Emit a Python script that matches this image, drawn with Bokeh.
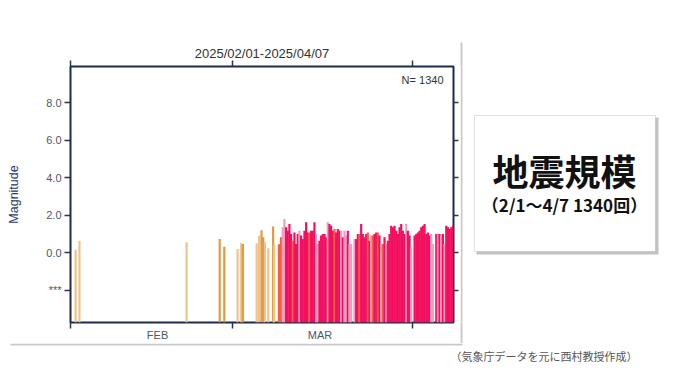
import pandas as pd
from bokeh.plotting import figure
from bokeh.layouts import row, column
from bokeh.models import Range1d, FixedTicker, LinearAxis, Label, BoxAnnotation, ColumnDataSource
from bokeh.embed import file_html
from bokeh.resources import INLINE

# ---------------- data ----------------
title_text = "2025/02/01-2025/04/07"
count_text = "N= 1340"
y_label = "Magnitude"
mag_ticks = [-2, 0, 2, 4, 6, 8]
mag_tick_labels = ["***", "0.0", "2.0", "4.0", "6.0", "8.0"]
month_starts = ["2025-02-01", "2025-03-01", "2025-04-01"]
month_label_dates = ["2025-02-16", "2025-03-16"]
month_names = ["FEB", "MAR"]
box_title = "地震規模"
box_sub = "（2/1～4/7 1340回）"
caption = "（気象庁データを元に西村教授作成）"

# sparse events (Feb - early Mar)
early_times = ["2025-02-01 21:00", "2025-02-02 13:00", "2025-02-21 00:00", "2025-02-26 17:00",
               "2025-02-27 12:00", "2025-03-01 19:00", "2025-03-02 10:00", "2025-03-02 17:00",
               "2025-03-05 02:00", "2025-03-05 12:00", "2025-03-05 22:00", "2025-03-06 05:00",
               "2025-03-06 12:00", "2025-03-07 02:00", "2025-03-07 22:00", "2025-03-08 02:00",
               "2025-03-08 22:00"]
early_mags = [0.15, 0.64, 0.55, 0.73, 0.32, 0.20, 0.52, 0.46, 0.50, 0.90, 1.20, 0.82,
              0.55, 0.23, 1.39, 0.43, 0.41]
early_cols = ["l", "l", "l", "o", "o", "l", "l", "o", "l", "l", "o", "o", "l", "l", "o", "l", "r"]

# dense swarm (from 9 Mar), sampled every 6.9 h; None = no event
dense_start = "2025-03-09 00:00"
dense_step_hours = 6.9
dense_mags = [0.46, 0.82, 1.35, 1.80, 1.35, 1.17, 1.53, 1.00, 0.64, 1.08,
              0.46, 1.00, 1.17, 0.91, 0.73, 1.17, 1.62, 1.08, 1.08, 1.17,
              1.17, 1.62, 1.00, 0.46, 0.64, 0.91, 1.00, 1.00, 0.82, 1.62,
              1.53, 1.44, 1.17, 1.26, 1.08, 1.26, 1.17, 1.17, 0.82, 1.17,
              0.91, 1.17, 0.46, 0.46, None, 0.73, 0.73, 1.00, 1.00, 1.53,
              1.00, 0.82, 1.00, 1.08, 0.64, 0.91, 0.91, 1.00, 1.08, 1.08,
              0.91, 0.46, 0.46, 0.82, 0.46, 0.64, 1.00, 1.44, 1.35, 1.44,
              1.17, 1.00, 1.35, 1.53, 1.17, 1.00, 1.53, 1.17, 0.91, 0.28,
              None, 0.91, 1.00, 1.08, 1.17, 1.35, 1.44, 1.53, 1.00, 1.08,
              0.91, 1.00, 0.46, None, 1.00, 1.00, 1.00, 0.91, 1.00, 0.46,
              1.44, 1.35, 1.26, 1.35, 1.44]
dense_cols = ("rrppccccrc" "ccpcccccrc" "ccppcccccp" "cccrcccpcp" "pcppxpccrc"
              "cccrcprccr" "cprcpccccc" "ccccccpccp" "xccccccccc" "cppxcpcpcp" "ccccc")

colour_map = {"o": "#E29A3D", "l": "#EFC28C", "r": "#F0613F", "c": "#F30F5F", "p": "#EE9DC0"}

# ---------------- build ----------------
def ms(s):
    return pd.Timestamp(s).value // 10**6

times, mags, cols = [], [], []
for t, m, c in zip(early_times, early_mags, early_cols):
    times.append(pd.Timestamp(t)); mags.append(m); cols.append(colour_map[c])
t0 = pd.Timestamp(dense_start)
for i, (m, c) in enumerate(zip(dense_mags, dense_cols)):
    if m is None:
        continue
    times.append(t0 + pd.Timedelta(hours=dense_step_hours * i)); mags.append(m); cols.append(colour_map[c])

src = ColumnDataSource(dict(t=times, m=mags, c=cols))

FONT = "Liberation Sans"
CJK = "Noto Sans CJK JP"
TICK_COL = "#2a3550"
LAB_COL = "#4d5868"
EDGE = "#cacaca"

TOP_H = 343
LEFT_W = 460
TOTAL_W = 672
TOTAL_H = 374
B_TOP = 66
B_BOT = 21
FRAME_BOTTOM = TOP_H - B_BOT   # 322 (canvas y)

p = figure(width=LEFT_W, height=TOP_H, x_axis_type="datetime", output_backend="svg", toolbar_location=None,
           x_range=Range1d(pd.Timestamp("2025-02-01"), pd.Timestamp("2025-04-08")),
           y_range=Range1d(-3.72, 9.92),
           min_border_left=70, min_border_right=7, min_border_top=B_TOP, min_border_bottom=B_BOT)
p.xgrid.visible = False
p.ygrid.visible = False
p.outline_line_color = "#1d2b4c"
p.outline_line_width = 2
p.background_fill_color = "white"
p.border_fill_color = "white"

p.title.text = title_text
p.title.align = "center"
p.title.text_font = FONT
p.title.text_font_size = "13px"
p.title.text_font_style = "normal"
p.title.text_color = "#333333"
p.title.standoff = 0

bar_w = dense_step_hours * 3600 * 1000 * 1.3
p.vbar(x="t", top="m", bottom=-5, width=bar_w, source=src, fill_color="c", line_color=None)

# bottom axis
xa = p.xaxis[0]
xa.ticker = FixedTicker(ticks=[ms(d) for d in month_label_dates], minor_ticks=[ms(d) for d in month_starts])
xa.major_label_overrides = {ms(d): n for d, n in zip(month_label_dates, month_names)}
xa.major_tick_out = 0
xa.major_tick_in = 0
xa.minor_tick_out = 6
xa.minor_tick_in = 0
xa.minor_tick_line_color = TICK_COL
xa.minor_tick_line_width = 1.5
xa.axis_line_color = None
xa.major_label_standoff = 0
xa.major_label_text_font = FONT
xa.major_label_text_font_size = "11px"
xa.major_label_text_color = LAB_COL

# top axis
ta = LinearAxis(ticker=FixedTicker(ticks=[ms(d) for d in month_starts]),
                major_label_overrides={ms(d): "" for d in month_starts},
                major_label_text_font_size="0px", major_label_standoff=0,
                major_tick_out=6, major_tick_in=0,
                major_tick_line_color=TICK_COL, major_tick_line_width=1.5, axis_line_color=None)
p.add_layout(ta, "above")

# left axis
ya = p.yaxis[0]
ya.ticker = FixedTicker(ticks=mag_ticks)
ya.major_label_overrides = {k: v for k, v in zip(mag_ticks, mag_tick_labels)}
ya.major_tick_out = 6
ya.major_tick_in = 0
ya.minor_tick_line_color = None
ya.major_tick_line_color = TICK_COL
ya.major_tick_line_width = 1.5
ya.axis_line_color = None
ya.major_label_standoff = 3
ya.major_label_text_font = FONT
ya.major_label_text_font_size = "11px"
ya.major_label_text_color = LAB_COL
ya.axis_label = y_label
ya.axis_label_text_font = FONT
ya.axis_label_text_font_size = "12.5px"
ya.axis_label_text_font_style = "normal"
ya.axis_label_text_color = "#1e3a66"
ya.axis_label_standoff = 22

# right axis
ra = LinearAxis(ticker=FixedTicker(ticks=mag_ticks),
                major_label_overrides={k: "" for k in mag_ticks},
                major_label_text_font_size="0px", major_label_standoff=0,
                major_tick_out=5, major_tick_in=0,
                major_tick_line_color=TICK_COL, major_tick_line_width=1.5, axis_line_color=None)
p.add_layout(ra, "right")

p.add_layout(Label(x=373, y=FRAME_BOTTOM - 79, x_units="screen", y_units="screen", text=count_text,
                   text_font=FONT, text_font_size="11px", text_color="#333333", text_align="right",
                   text_baseline="middle"))


def box(f, l, r, t, b, fill, line=None, lw=1):
    f.add_layout(BoxAnnotation(left=l, right=r, top=t, bottom=b, left_units="screen", right_units="screen",
                               top_units="screen", bottom_units="screen", fill_color=fill, fill_alpha=1,
                               line_color=line, line_width=lw))


def lab(f, x, y, text, size, color, font, align="center", style="normal"):
    f.add_layout(Label(x=x, y=y, x_units="screen", y_units="screen", text=text, text_font=font,
                       text_font_size=size, text_color=color, text_align=align, text_baseline="middle",
                       text_font_style=style))


# right panel (info box); same borders as p so frames coincide: frame = canvas y 66..322
RW = TOTAL_W - LEFT_W
q = figure(width=RW, height=TOP_H, output_backend="svg", toolbar_location=None,
           x_range=Range1d(0, RW), y_range=Range1d(0, 1), x_axis_type=None, y_axis_type=None,
           min_border_left=0, min_border_right=0, min_border_top=B_TOP, min_border_bottom=B_BOT)
q.outline_line_color = None
q.background_fill_color = "white"
q.border_fill_color = "white"
# panel right edge: inside frame as a box, above/below frame as long axis ticks
box(q, 0, 2, FRAME_BOTTOM - 66, 0, EDGE)
qt = LinearAxis(ticker=FixedTicker(ticks=[1]), major_label_overrides={1: ""}, major_label_text_font_size="0px",
                major_label_standoff=0, major_tick_out=24, major_tick_in=0, major_tick_line_color=EDGE,
                major_tick_line_width=2, axis_line_color=None)
q.add_layout(qt, "above")
qb = LinearAxis(ticker=FixedTicker(ticks=[1]), major_label_overrides={1: ""}, major_label_text_font_size="0px",
                major_label_standoff=0, major_tick_out=B_BOT, major_tick_in=0, major_tick_line_color=EDGE,
                major_tick_line_width=2, axis_line_color=None)
q.add_layout(qb, "below")
box(q, 16, 198, FRAME_BOTTOM - 117, FRAME_BOTTOM - 254, "#c2c2c2")  # info box shadow
box(q, 14, 195, FRAME_BOTTOM - 115, FRAME_BOTTOM - 251, "white", "#9a9a9a", 1)
lab(q, 104, FRAME_BOTTOM - 169, box_title, "36px", "#111111", CJK, style="bold")
lab(q, 104, FRAME_BOTTOM - 204, box_sub, "17px", "#111111", CJK, style="bold")

# bottom strip (panel bottom edge + caption)
BH = TOTAL_H - TOP_H
s = figure(width=TOTAL_W, height=BH, output_backend="svg", toolbar_location=None,
           x_range=Range1d(0, 1), y_range=Range1d(0, 1), x_axis_type=None, y_axis_type=None, min_border=0)
s.outline_line_color = None
s.background_fill_color = "white"
s.border_fill_color = "white"
box(s, 10, 462, BH, BH - 2, EDGE)
lab(s, 450, BH - 12, caption, "11px", "#555555", CJK, align="left")

layout = column(row(p, q), s)
open("out.html", "w").write(file_html(layout, INLINE))
